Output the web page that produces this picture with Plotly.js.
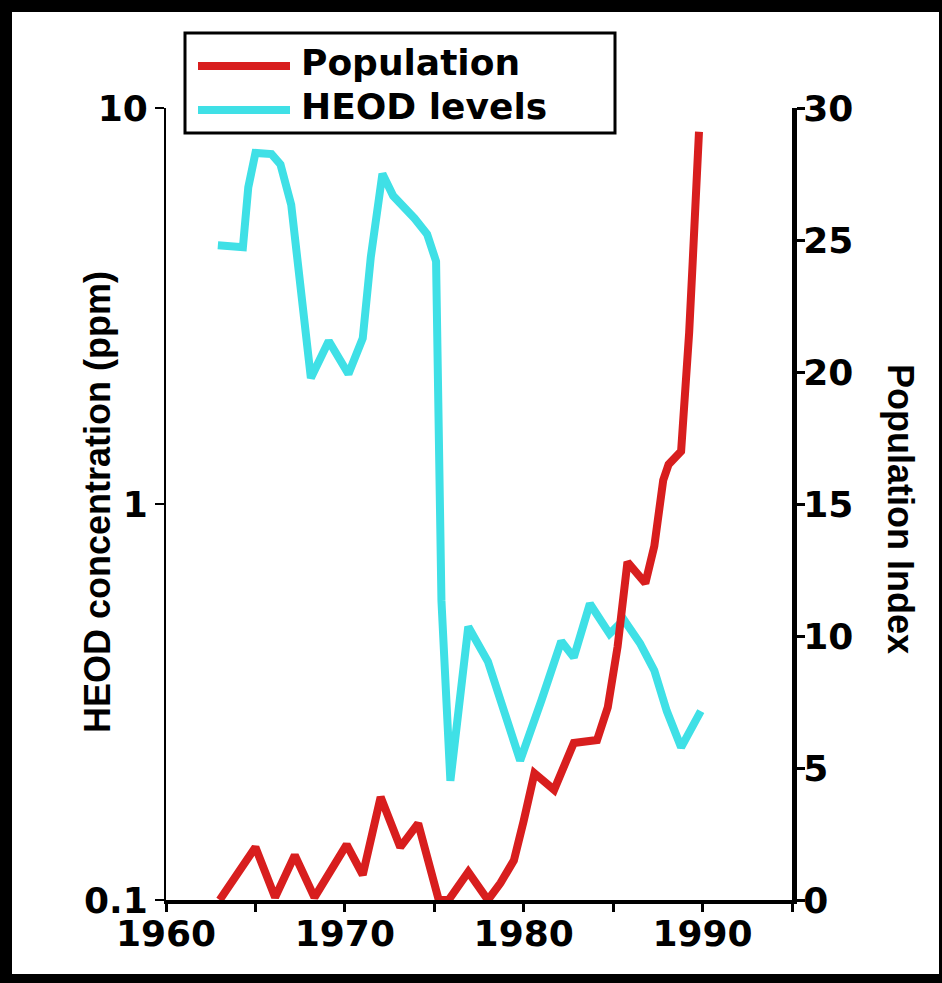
<!DOCTYPE html>
<html>
<head>
<meta charset="utf-8">
<script src="https://cdn.plot.ly/plotly-3.0.1.min.js"></script>
<style>
  html, body { margin: 0; padding: 0; background: #ffffff; }
  #wrap { position: relative; width: 942px; height: 983px; }
  #chart { width: 942px; height: 983px; }
  #frame {
    position: absolute; left: 0; top: 0; width: 942px; height: 983px;
    box-sizing: border-box; pointer-events: none;
    border-style: solid; border-color: #000;
    border-width: 12px 3px 9px 12px;
  }
</style>
</head>
<body>
<div id="wrap">
  <div id="chart"></div>
  <div id="frame"></div>
</div>
<script>
// ---------------- data ----------------
const popYears = [1963.0, 1965.0, 1966.1, 1967.2, 1968.3, 1970.1, 1971.0, 1972.0, 1973.1, 1974.1,
                  1975.25, 1975.8, 1976.9, 1978.0, 1978.7, 1979.45, 1980.0, 1980.6, 1981.7, 1982.8,
                  1984.1, 1984.7, 1985.25, 1985.8, 1986.8, 1987.3, 1987.8, 1988.1, 1988.8,
                  1989.05, 1989.25, 1989.45, 1989.7, 1989.8];
const population = [0, 2.0, 0.1, 1.7, 0.1, 2.1, 0.95, 3.9, 2.0, 2.9,
                    0, 0, 1.06, 0, 0.64, 1.5, 3.0, 4.8, 4.17, 5.95,
                    6.06, 7.3, 9.6, 12.8, 12.0, 13.4, 15.9, 16.5, 17.0,
                    19.2, 21.5, 24.2, 27.8, 29.1];

const heodYears = [1962.9, 1964.3, 1964.6, 1965.0, 1965.9, 1966.4, 1967.0, 1968.1, 1969.1, 1970.2,
                   1971.0, 1971.45, 1972.1, 1972.7, 1973.9, 1974.6, 1975.1, 1975.4, 1975.9,
                   1976.9, 1978.0, 1978.9, 1979.8, 1981.0, 1982.1, 1982.8, 1983.7, 1984.8,
                   1985.6, 1986.5, 1987.3, 1988.0, 1988.8, 1989.9];
const heod = [4.5, 4.45, 6.3, 7.7, 7.65, 7.2, 5.7, 2.08, 2.58, 2.13,
              2.62, 4.2, 6.82, 6.0, 5.26, 4.8, 4.1, 0.57, 0.2,
              0.49, 0.40, 0.30, 0.225, 0.32, 0.45, 0.41, 0.56, 0.47,
              0.51, 0.445, 0.38, 0.30, 0.243, 0.30];

const seriesNames = ['Population', 'HEOD levels'];
const seriesColors = ['#d81e1e', '#3fe0e6'];

const xTickVals = [1960, 1965, 1970, 1975, 1980, 1985, 1990, 1995];
const xTickText = ['1960', '', '1970', '', '1980', '', '1990', ''];
const yTickVals = [0.1, 1, 10];
const yTickText = ['0.1', '1', '10'];
const y2TickVals = [0, 5, 10, 15, 20, 25, 30];
const y2TickText = ['0', '5', '10', '15', '20', '25', '30'];

const leftTitle = 'HEOD concentration (ppm)';
const rightTitle = 'Population Index';

// ---------------- geometry helpers (plot area in px) ----------------
const W = 942, H = 983;
const M = { l: 166, r: 150, t: 108, b: 83 };
const PW = W - M.l - M.r, PH = H - M.t - M.b;
const px = x => (x - M.l) / PW;          // page x -> paper x
const py = y => (H - M.b - y) / PH;      // page y -> paper y

const tickFont = { family: 'DejaVu Sans, Arial, sans-serif', size: 36, color: '#000', weight: 'bold' };
const titleFont = { family: 'Liberation Sans, Arial, sans-serif', size: 36, color: '#000', weight: 'bold' };
const legFont = { family: 'DejaVu Sans, Arial, sans-serif', size: 36, color: '#000', weight: 'bold' };

const traces = [
  { x: popYears, y: population, name: seriesNames[0], type: 'scatter', mode: 'lines',
    yaxis: 'y2', line: { color: seriesColors[0], width: 8 }, showlegend: false },
  { x: heodYears, y: heod, name: seriesNames[1], type: 'scatter', mode: 'lines',
    yaxis: 'y', line: { color: seriesColors[1], width: 8 }, showlegend: false }
];

// custom legend (box, line samples, labels)
const legBox = { x0: 185, x1: 615, y0: 33, y1: 133 };
const legRowsY = [63, 107];
const shapes = [
  { type: 'rect', xref: 'paper', yref: 'paper',
    x0: px(legBox.x0), x1: px(legBox.x1), y0: py(legBox.y1), y1: py(legBox.y0),
    line: { color: '#000', width: 3 }, fillcolor: '#ffffff', layer: 'above' }
];
const annotations = [];
seriesNames.forEach((nm, i) => {
  shapes.push({ type: 'line', xref: 'paper', yref: 'paper',
    x0: px(198), x1: px(290), y0: py(legRowsY[i] + 3), y1: py(legRowsY[i] + 3),
    line: { color: seriesColors[i], width: 8 }, layer: 'above' });
  annotations.push({ xref: 'paper', yref: 'paper', x: px(299), y: py(legRowsY[i]),
    xanchor: 'left', yanchor: 'middle', text: nm, showarrow: false, font: legFont });
});
annotations.push({ xref: 'paper', yref: 'paper', x: px(97), y: py(502), xanchor: 'center', yanchor: 'middle',
  text: leftTitle, textangle: -90, showarrow: false, font: titleFont });
annotations.push({ xref: 'paper', yref: 'paper', x: px(900), y: py(509), xanchor: 'center', yanchor: 'middle',
  text: rightTitle, textangle: 90, showarrow: false, font: titleFont });

const layout = {
  width: W, height: H,
  margin: M,
  paper_bgcolor: '#ffffff', plot_bgcolor: '#ffffff',
  showlegend: false,
  xaxis: {
    range: [1960, 1995], tickmode: 'array', tickvals: xTickVals, ticktext: xTickText,
    showgrid: false, zeroline: false, showline: true, linecolor: '#000', linewidth: 4,
    ticks: 'outside', ticklen: 8, tickwidth: 3, tickcolor: '#000', tickfont: tickFont,
    ticklabelstandoff: -9, automargin: false
  },
  yaxis: {
    type: 'log', range: [-1, 1], tickmode: 'array', tickvals: yTickVals, ticktext: yTickText,
    showgrid: false, zeroline: false, showline: true, linecolor: '#000', linewidth: 2,
    ticks: 'outside', ticklen: 9, tickwidth: 2, tickcolor: '#000', tickfont: tickFont,
    automargin: false
  },
  yaxis2: {
    overlaying: 'y', side: 'right', anchor: 'x', range: [0, 30],
    tickmode: 'array', tickvals: y2TickVals, ticktext: y2TickText,
    showgrid: false, zeroline: false, showline: true, linecolor: '#000', linewidth: 5,
    ticks: 'outside', ticklen: 8, tickwidth: 3, tickcolor: '#000', tickfont: tickFont,
    ticklabelstandoff: -9, automargin: false
  },
  shapes: shapes,
  annotations: annotations
};

Plotly.newPlot('chart', traces, layout, { displayModeBar: false, staticPlot: true });
</script>
</body>
</html>
